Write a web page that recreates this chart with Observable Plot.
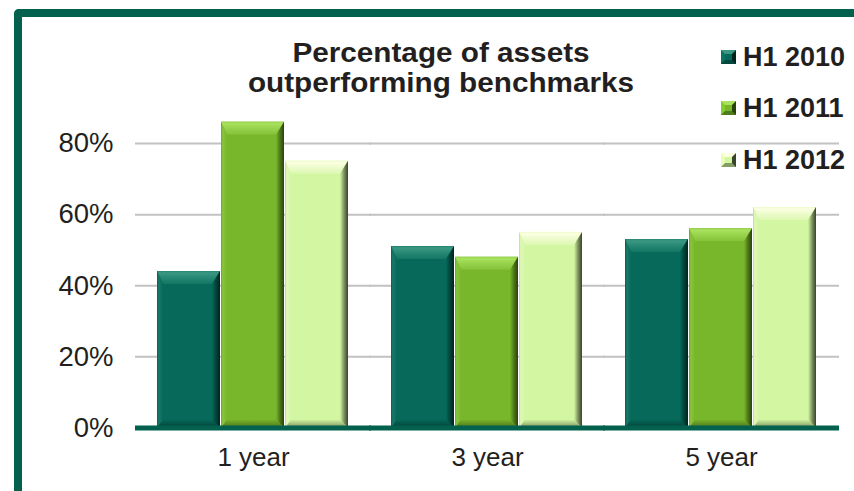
<!DOCTYPE html>
<html><head><meta charset="utf-8">
<script src="https://cdn.jsdelivr.net/npm/d3@7"></script>
<script src="https://cdn.jsdelivr.net/npm/@observablehq/plot@0.6"></script>
<style>
body{margin:0;background:#fff;}
#wrap{position:relative;width:854px;height:491px;overflow:hidden;font-family:"Liberation Sans",Arial,sans-serif;color:#231f20;}
#chart{position:absolute;left:0;top:0;}
#frame{position:absolute;left:14px;top:9px;width:900px;height:600px;border-top:8px solid #03614e;border-left:8px solid #03614e;border-top-left-radius:5px;box-sizing:border-box;}
#title{position:absolute;left:241px;width:400px;top:37.8px;text-align:center;font-weight:bold;font-size:27px;line-height:30.5px;transform:scaleX(1.1);transform-origin:200px 0;}
.leg{position:absolute;left:721px;font-weight:bold;font-size:27px;line-height:27px;white-space:nowrap;}
.sw{display:inline-block;box-sizing:border-box;width:15px;height:14px;border-style:solid;border-width:4px;margin-right:7px;vertical-align:2px;}
</style>
</head><body>
<div id="wrap">
  <div id="chart"></div>
  <div id="frame"></div>
  <div id="title">Percentage of assets<br>outperforming benchmarks</div>
  <div id="legend"></div>
</div>
<script>
// ---- data ----
const groups = ["1 year", "3 year", "5 year"];
const seriesNames = ["H1 2010", "H1 2011", "H1 2012"];
const h1_2010 = [0.44, 0.51, 0.53];
const h1_2011 = [0.86, 0.48, 0.56];
const h1_2012 = [0.75, 0.55, 0.62];
const yTicks = [0, 0.2, 0.4, 0.6, 0.8];
const yTickLabels = ["0%", "20%", "40%", "60%", "80%"];

// ---- styles ----
const baseColors = ["#06695a", "#78b62b", "#d2f6a2"];
const topColors = ["#3a9882", "#a9e25e", "#fcffe2"];
const edgeColors = ["#01241d", "#2a420c", "#39442a"];

const seriesValues = [h1_2010, h1_2011, h1_2012];
const data = [];
groups.forEach((g, i) => {
  seriesNames.forEach((s, j) => data.push({group: g, series: s, si: j, value: seriesValues[j][i]}));
});

const chart = Plot.plot({
  width: 854, height: 491,
  marginLeft: 138, marginRight: 18, marginTop: 107.5, marginBottom: 63.6,
  style: {background: "transparent", fontFamily: "'Liberation Sans', Arial, sans-serif", fontSize: "26px", color: "#231f20", overflow: "visible"},
  facet: {data, x: "group"},
  fx: {domain: groups, paddingInner: 0.172, paddingOuter: 0.077, label: null, axis: "bottom", tickSize: 0, tickPadding: 20},
  x: {domain: seriesNames, axis: null, paddingInner: 0.015, paddingOuter: 0},
  y: {domain: [0, 0.9], ticks: yTicks, tickFormat: d => yTickLabels[yTicks.indexOf(d)], tickSize: 0, tickPadding: 43, label: null},
  color: {type: "identity"},
  marks: [
    Plot.ruleY(yTicks.slice(1), {stroke: "#c2c2c2", strokeWidth: 2, insetLeft: -21, insetRight: -21}),
    Plot.barY(data, {x: "series", y1: 0, y2: "value", fill: d => baseColors[d.si], title: d => String(d.si)}),
    Plot.ruleY([0], {stroke: "#03614e", strokeWidth: 5, insetLeft: -21, insetRight: -21})
  ]
});

// ---- bevel decoration of the bars Plot drew ----
const ns = "http://www.w3.org/2000/svg";
const defs = document.createElementNS(ns, "defs");
function grad(id, dir, stops) {
  const g = document.createElementNS(ns, "linearGradient");
  g.setAttribute("id", id);
  const v = {down: [0,0,0,1], right: [0,0,1,0]}[dir];
  g.setAttribute("x1", v[0]); g.setAttribute("y1", v[1]);
  g.setAttribute("x2", v[2]); g.setAttribute("y2", v[3]);
  stops.forEach(([o, c]) => {
    const s = document.createElementNS(ns, "stop");
    s.setAttribute("offset", o); s.setAttribute("stop-color", c);
    g.appendChild(s);
  });
  defs.appendChild(g);
}
baseColors.forEach((c, i) => {
  const mix = (a, b, t) => d3.interpolateRgb(a, b)(t);
  grad(`bt${i}`, "down", [[0, mix(c, topColors[i], 0.6)], [0.15, topColors[i]], [0.45, mix(c, topColors[i], 0.7)], [1, mix(c, topColors[i], 0.25)]]);
  grad(`bb${i}`, "down", [[0, c], [1, mix(c, edgeColors[i], 0.55)]]);
  grad(`bl${i}`, "right", [[0, mix(c, edgeColors[i], 0.15)], [0.3, mix(c, topColors[i], 0.35)], [1, c]]);
  grad(`br${i}`, "right", [[0, c], [0.5, mix(c, edgeColors[i], 0.55)], [1, edgeColors[i]]]);
});
chart.insertBefore(defs, chart.firstChild);

const bevT = 13, bevB = 8, bevL = 6, bevR = 8;
chart.querySelectorAll('g[aria-label="bar"] rect').forEach(r => {
  const x = +r.getAttribute("x"), y = +r.getAttribute("y"), w = +r.getAttribute("width"), h = +r.getAttribute("height");
  const tEl = r.querySelector("title");
  const si = tEl ? +tEl.textContent : 0;
  if (tEl) tEl.remove();
  const parent = r.parentNode;
  const next = r.nextSibling;
  const add = (pts, fill) => {
    const p = document.createElementNS(ns, "path");
    p.setAttribute("d", "M" + pts.map(q => q.join(",")).join("L") + "Z");
    p.setAttribute("fill", fill);
    parent.insertBefore(p, next);
  };
  const X0 = x, X1 = x + w, Y0 = y, Y1 = y + h;
  add([[X0, Y0], [X1, Y0], [X1 - bevR, Y0 + bevT], [X0 + bevL, Y0 + bevT]], `url(#bt${si})`);
  add([[X0, Y1], [X1, Y1], [X1 - bevR, Y1 - bevB], [X0 + bevL, Y1 - bevB]], `url(#bb${si})`);
  add([[X0, Y0], [X0 + bevL, Y0 + bevT], [X0 + bevL, Y1 - bevB], [X0, Y1]], `url(#bl${si})`);
  add([[X1, Y0], [X1 - bevR, Y0 + bevT], [X1 - bevR, Y1 - bevB], [X1, Y1]], `url(#br${si})`);
});
chart.querySelectorAll('text').forEach(t => t.setAttribute("fill", "#231f20"));
chart.querySelectorAll('[aria-label^="y-axis"] text').forEach(t => { t.style.fontSize = "27.5px"; });
document.getElementById("chart").appendChild(chart);

// ---- legend ----
const legendBaselines = [66.5, 118, 169.5];
const legend = document.getElementById("legend");
seriesNames.forEach((s, i) => {
  const div = document.createElement("div");
  div.className = "leg";
  div.style.top = (legendBaselines[i] - 22.9) + "px";
  const sw = document.createElement("span");
  sw.className = "sw";
  sw.style.background = baseColors[i];
  sw.style.borderColor = `${topColors[i]} ${edgeColors[i]} ${d3.interpolateRgb(baseColors[i], edgeColors[i])(0.5)} ${d3.color(baseColors[i]).brighter(0.3).formatHex()}`;
  div.appendChild(sw);
  div.appendChild(document.createTextNode(s));
  legend.appendChild(div);
});
</script>
</body></html>
